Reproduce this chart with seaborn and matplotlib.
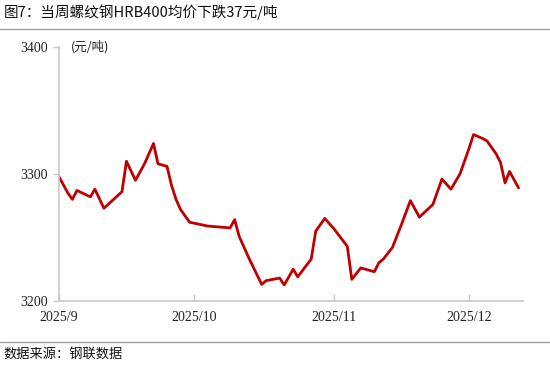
import matplotlib
matplotlib.use('Agg')
import matplotlib.pyplot as plt
from matplotlib.lines import Line2D
import seaborn as sns
import pandas as pd

# 螺纹钢HRB400均价 (元/吨)
dates = ['2025-09-01', '2025-09-03', '2025-09-04', '2025-09-05', '2025-09-08', '2025-09-09',
         '2025-09-11', '2025-09-15', '2025-09-16', '2025-09-18', '2025-09-20', '2025-09-22',
         '2025-09-23', '2025-09-25', '2025-09-26', '2025-09-27', '2025-09-28', '2025-09-30',
         '2025-10-04', '2025-10-09', '2025-10-10', '2025-10-11', '2025-10-13',
         '2025-10-16', '2025-10-17', '2025-10-20', '2025-10-21', '2025-10-23',
         '2025-10-24', '2025-10-27', '2025-10-28', '2025-10-30', '2025-11-01',
         '2025-11-04', '2025-11-05', '2025-11-07', '2025-11-10', '2025-11-11',
         '2025-11-12', '2025-11-14', '2025-11-16', '2025-11-18', '2025-11-20', '2025-11-23',
         '2025-11-25', '2025-11-27', '2025-11-29', '2025-12-01', '2025-12-02', '2025-12-04',
         '2025-12-05', '2025-12-07', '2025-12-08', '2025-12-09', '2025-12-10', '2025-12-12']
price = [3298, 3285, 3280, 3287, 3282, 3288,
         3273, 3286, 3310, 3295, 3308, 3324,
         3308, 3306, 3291, 3280, 3272, 3262,
         3259, 3257.5, 3264, 3251, 3235,
         3213, 3216, 3218, 3212.6, 3225,
         3219, 3233, 3255, 3265, 3257,
         3243, 3217, 3226, 3223, 3230,
         3233, 3242, 3260, 3279, 3266, 3276,
         3296, 3288, 3300, 3320, 3331, 3328,
         3326, 3316, 3309, 3293, 3302, 3289]
tick_dates = ['2025-09-01', '2025-10-01', '2025-11-01', '2025-12-01']
tick_labels = ['2025/9', '2025/10', '2025/11', '2025/12']

df = pd.DataFrame({'date': pd.to_datetime(dates), 'price': price})

sns.set_theme(style='white')
plt.rcParams['font.family'] = ['Noto Sans CJK SC', 'DejaVu Sans']

fig = plt.figure(figsize=(5.5, 3.67), dpi=100)
ax = fig.add_axes([0.107, 0.18, 0.844, 0.692])

sns.lineplot(data=df, x='date', y='price', ax=ax, color='#C00000', linewidth=2.0,
             solid_joinstyle='round', solid_capstyle='round')

ax.set_xlim(pd.Timestamp('2025-09-01'), pd.Timestamp('2025-12-13'))
ax.set_ylim(3200, 3400)
ax.set_yticks([3200, 3300, 3400])
ax.set_xticks(pd.to_datetime(tick_dates))
ax.set_xticklabels(tick_labels)
ax.set_xlabel('')
ax.set_ylabel('')

for lab in ax.get_xticklabels() + ax.get_yticklabels():
    lab.set_family('Liberation Serif')
    lab.set_fontsize(10)
    lab.set_color('#222222')

for s in ['top', 'right']:
    ax.spines[s].set_visible(False)
for s in ['left', 'bottom']:
    ax.spines[s].set_color('#C8C8C8')
    ax.spines[s].set_linewidth(1.2)

ax.tick_params(axis='y', direction='out', length=4, width=1, color='#C8C8C8', left=True, pad=4)
ax.tick_params(axis='x', direction='in', length=5, width=1, color='#C8C8C8', bottom=True, pad=7)

ax.text(0.025, 1.0, '(元/吨)', transform=ax.transAxes, fontsize=9, color='#222222',
        va='center', ha='left')

fig.text(0.006, 0.967, '图7：当周螺纹钢HRB400均价下跌37元/吨', fontsize=10.5,
         color='#111111', va='center', ha='left')
fig.add_artist(Line2D([0, 1], [0.921, 0.921], color='#A0A0A0', linewidth=1.0))
fig.add_artist(Line2D([0, 1], [0.068, 0.068], color='#A0A0A0', linewidth=1.0))
fig.text(0.006, 0.033, '数据来源：钢联数据', fontsize=9.5, color='#111111',
         va='center', ha='left')

fig.savefig('out.png', dpi=100, facecolor='white')
